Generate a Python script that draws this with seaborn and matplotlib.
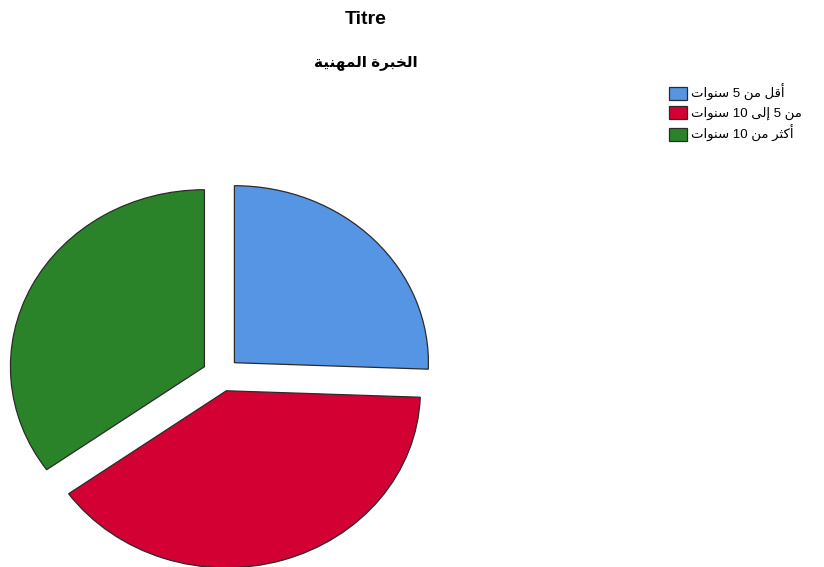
import unicodedata
import matplotlib
matplotlib.use('Agg')
import matplotlib.pyplot as plt
import seaborn as sns

# values (counts)
categories = ['أقل من 5 سنوات', 'من 5 إلى 10 سنوات', 'أكثر من 10 سنوات']
counts = [11, 17, 15]
colors = ['#5595E3', '#D20033', '#2A8329']
title = 'Titre'
subtitle = 'الخبرة المهنية'


def _form(ch, kind):
    try:
        return unicodedata.lookup(unicodedata.name(ch) + ' ' + kind + ' FORM')
    except KeyError:
        return None


def ar(text):
    # matplotlib has no arabic shaping: use presentation forms + visual order
    def is_ar(c):
        return '\u0600' <= c <= '\u06FF'

    def dual(c):
        return is_ar(c) and _form(c, 'INITIAL') is not None

    tokens = []
    for word in text.split(' '):
        if not any(is_ar(c) for c in word):
            tokens.append(word)
            continue
        out = []
        for i, c in enumerate(word):
            prev_j = i > 0 and dual(word[i - 1])
            next_j = i < len(word) - 1 and is_ar(word[i + 1]) and dual(c)
            if prev_j and next_j:
                f = _form(c, 'MEDIAL')
            elif prev_j:
                f = _form(c, 'FINAL')
            elif next_j:
                f = _form(c, 'INITIAL')
            else:
                f = _form(c, 'ISOLATED')
            out.append(f or c)
        tokens.append(''.join(reversed(out)))
    return ' '.join(reversed(tokens))


sns.set_theme(style='white')
plt.rcParams['font.family'] = ['Liberation Sans', 'DejaVu Sans']
plt.rcParams['text.color'] = 'black'

fig = plt.figure(figsize=(8.24, 5.67), dpi=100)
W, H = 824, 567
cx, cy = 221, 374.5      # pie centre in pixels (from top)
rx, ry = 194, 177        # pie is a bit flattened
lim = 1.2
ax = fig.add_axes([(cx - lim * rx) / W, (H - cy - lim * ry) / H,
                   2 * lim * rx / W, 2 * lim * ry / H])

wedges, _ = ax.pie(counts, colors=colors, startangle=90, counterclock=False,
                   explode=[0.096] * 3,
                   wedgeprops=dict(edgecolor='#2b2b2b', linewidth=0.9))
ax.set_aspect('auto')
ax.set_xlim(-lim, lim)
ax.set_ylim(-lim, lim)
ax.axis('off')

fig.text(366 / W, 1 - 19 / H, title, ha='center', va='center',
         fontsize=14, fontweight='bold', color='black')
fig.text(366 / W, 1 - 63 / H, ar(subtitle), ha='center', va='center',
         fontsize=11, fontweight='bold', color='black')

leg = fig.legend(wedges, [ar(c) for c in categories], loc='upper left',
                 bbox_to_anchor=(669 / W, 1 - 84 / H), frameon=False,
                 fontsize=9.5, borderpad=0, handlelength=1.4, handleheight=1.1,
                 handletextpad=0.3, labelspacing=0.38, borderaxespad=0)
for t in leg.get_texts():
    t.set_color('black')

fig.savefig('out.png', dpi=100, facecolor='white')
